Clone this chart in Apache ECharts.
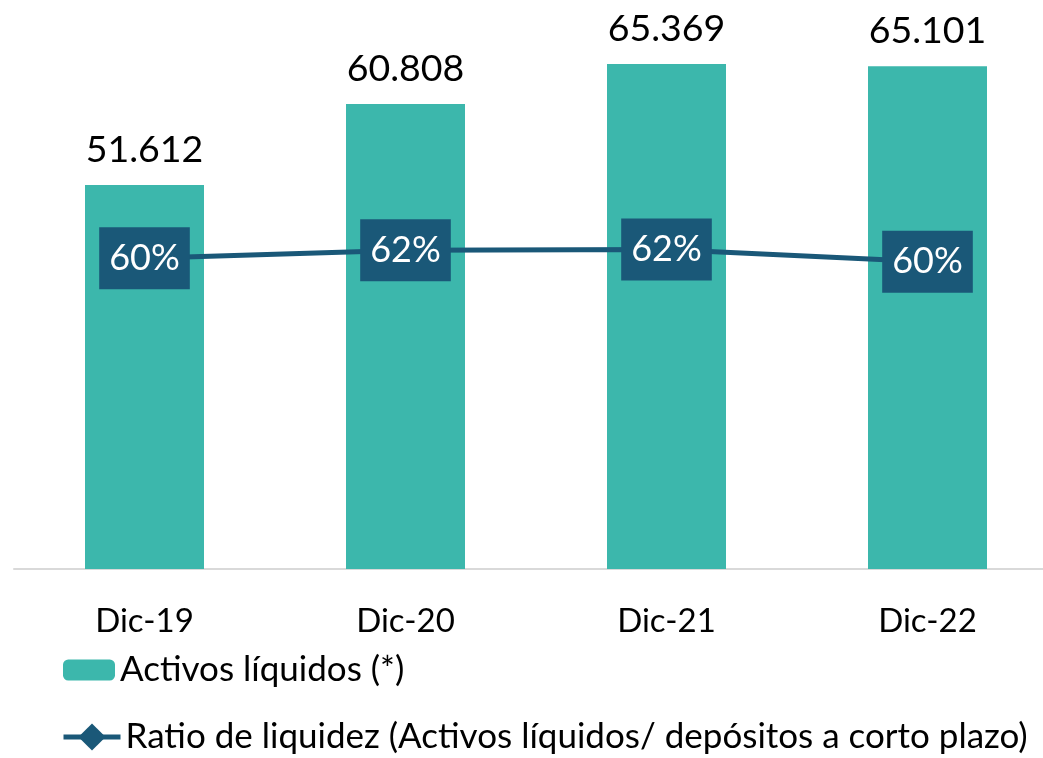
<!DOCTYPE html>
<html>
<head>
<meta charset="utf-8">
<script src="https://cdn.jsdelivr.net/npm/echarts@6/dist/echarts.min.js"></script>
<style>
  html, body { margin: 0; padding: 0; background: #fff; }
  #chart { width: 1043px; height: 758px; }
</style>
</head>
<body>
<div id="chart"></div>
<script>
  // datos
  const categories = ["Dic-19", "Dic-20", "Dic-21", "Dic-22"];
  const activosLiquidos = [51612, 60808, 65369, 65101];
  const ratioLiquidez = [0.6034, 0.6183, 0.62, 0.5971];

  const barName = "Activos líquidos (*)";
  const lineName = "Ratio de liquidez (Activos líquidos/ depósitos a corto plazo)";
  const fontFamily = "Lato, 'Open Sans', sans-serif";

  const fmtMiles = v => String(v).replace(/\B(?=(\d{3})+(?!\d))/g, ".");

  const chart = echarts.init(document.getElementById("chart"));
  const option = {
    animation: false,
    textStyle: { fontFamily: fontFamily },
    grid: { left: 14, width: 1044, top: 5.6, bottom: 189, outerBoundsMode: "none" },
    legend: [
      {
        data: [barName],
        left: 63,
        top: 652,
        padding: 0,
        itemWidth: 52,
        itemHeight: 21,
        textStyle: { fontSize: 35, color: "#000", fontFamily: fontFamily, lineHeight: 36 },
      },
      {
        data: [lineName],
        left: 61,
        top: 719,
        padding: 0,
        itemWidth: 57,
        itemHeight: 34,
        lineStyle: { width: 5 },
        textStyle: { fontSize: 35, color: "#000", fontFamily: fontFamily, lineHeight: 36 },
      },
    ],
    xAxis: {
      type: "category",
      data: categories,
      axisLine: { lineStyle: { color: "#d9d9d9", width: 2 } },
      axisTick: { show: false },
      axisLabel: { fontSize: 33, color: "#000", margin: 36, fontFamily: fontFamily },
    },
    yAxis: [
      { type: "value", min: 8000, max: 72000, show: false },
      { type: "value", min: 0.03, max: 1.07, show: false },
    ],
    series: [
      {
        name: barName,
        type: "bar",
        data: activosLiquidos,
        barWidth: 119,
        itemStyle: { color: "#3cb7ac" },
        label: {
          show: true,
          position: "top",
          distance: 16,
          fontSize: 37.5,
          color: "#000",
          fontFamily: fontFamily,
          formatter: p => fmtMiles(p.value),
        },
      },
      {
        name: lineName,
        type: "line",
        yAxisIndex: 1,
        data: ratioLiquidez,
        symbol: "diamond",
        symbolSize: 22,
        lineStyle: { color: "#1a5878", width: 5 },
        itemStyle: { color: "#1a5878" },
        label: {
          show: true,
          position: "inside",
          fontSize: 36,
          color: "#fff",
          fontFamily: fontFamily,
          backgroundColor: "#1a5878",
          lineHeight: 46,
          padding: [8, 10],
          formatter: p => Math.round(p.value * 100) + "%",
        },
      },
    ],
  };
  chart.setOption(option);
</script>
</body>
</html>
